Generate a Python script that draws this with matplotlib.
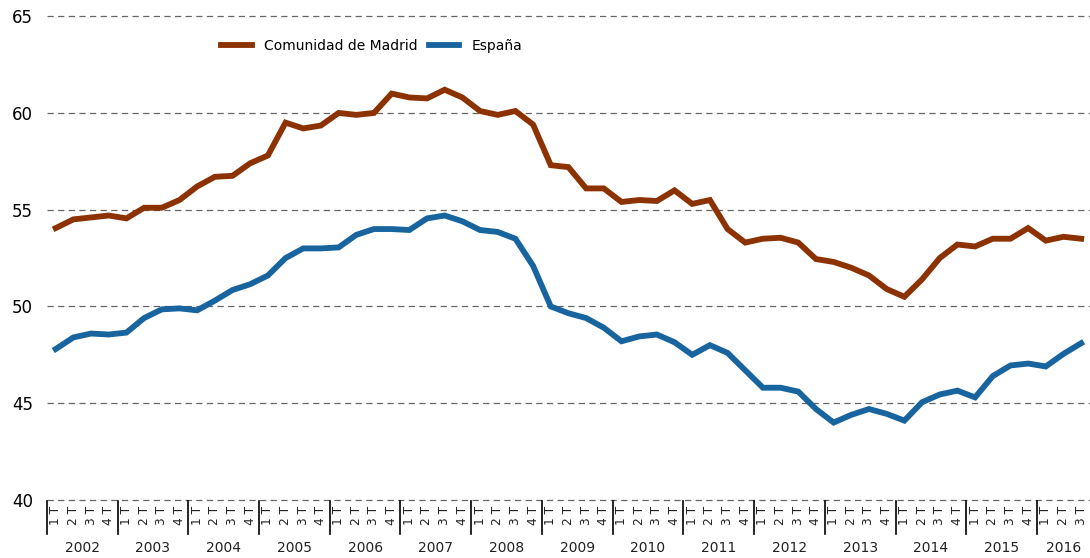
import matplotlib.pyplot as plt
import matplotlib.transforms as mtransforms
import numpy as np

years = [str(y) for y in range(2002, 2017)]
quarters = ["1 T", "2 T", "3 T", "4 T"]

madrid = [54.05, 54.5, 54.6, 54.7, 54.55, 55.1, 55.1, 55.5, 56.2, 56.7,
          56.75, 57.4, 57.8, 59.5, 59.2, 59.35, 60.0, 59.9, 60.0, 61.0,
          60.8, 60.75, 61.2, 60.8, 60.1, 59.9, 60.1, 59.4, 57.3, 57.2,
          56.1, 56.1, 55.4, 55.5, 55.45, 56.0, 55.3, 55.5, 54.0, 53.3,
          53.5, 53.55, 53.3, 52.45, 52.3, 52.0, 51.6, 50.9, 50.5, 51.4,
          52.5, 53.2, 53.1, 53.5, 53.5, 54.05, 53.4, 53.6, 53.5]

espana = [47.8, 48.4, 48.6, 48.55, 48.65, 49.4, 49.85, 49.9, 49.8, 50.3,
          50.85, 51.15, 51.6, 52.5, 53.0, 53.0, 53.05, 53.7, 54.0, 54.0,
          53.95, 54.55, 54.7, 54.4, 53.95, 53.85, 53.5, 52.1, 50.0, 49.65,
          49.4, 48.9, 48.2, 48.45, 48.55, 48.15, 47.5, 48.0, 47.6, 46.7,
          45.8, 45.8, 45.6, 44.7, 44.0, 44.4, 44.7, 44.45, 44.1, 45.05,
          45.45, 45.65, 45.3, 46.4, 46.95, 47.05, 46.9, 47.55, 48.1]

plt.rcParams['font.family'] = ['DejaVu Sans']

fig = plt.figure(figsize=(10.9, 5.58), dpi=100)
ax = fig.add_axes([0.043, 0.104, 0.957, 0.867])

x = np.arange(len(madrid))
ax.plot(x, madrid, color='#8c3100', lw=4.2, solid_joinstyle='miter',
        label='Comunidad de Madrid', zorder=3)
ax.plot(x, espana, color='#18649e', lw=4.2, solid_joinstyle='miter',
        label='España', zorder=3)

ax.set_xlim(-0.5, 58.5)
ax.set_ylim(40, 65)
ax.set_yticks(range(40, 66, 5))
ax.tick_params(axis='y', length=0, pad=10, labelsize=12)
ax.set_xticks([])
for s in ax.spines.values():
    s.set_visible(False)

# dashed reference lines (unclipped so the 40 and 65 lines show fully)
for v in range(40, 66, 5):
    ax.axhline(v, linestyle=(0, (5, 3.5)), color='#666666', lw=0.9,
               clip_on=False, zorder=1)

# quarter labels and year blocks under the axis
trans = mtransforms.blended_transform_factory(ax.transData, ax.transAxes)
for i in range(len(madrid)):
    ax.text(i, -0.012, quarters[i % 4], transform=trans, rotation=90,
            ha='center', va='top', fontsize=8.8, color='#222222')
for k, yr in enumerate(years):
    start = k * 4 - 0.5
    end = min(start + 4, 58.5)
    ax.plot([start, start], [-0.002, -0.070], transform=trans, color='black',
            lw=1.2, clip_on=False)
    ax.text((start + end) / 2, -0.084, yr, transform=trans, ha='center',
            va='top', fontsize=10, color='#222222')

ax.legend(loc='upper left', bbox_to_anchor=(0.155, 0.978), ncol=2,
          frameon=False, fontsize=10, handlelength=2.2, columnspacing=0.8,
          handletextpad=0.9)

fig.savefig('out.png', dpi=100)
